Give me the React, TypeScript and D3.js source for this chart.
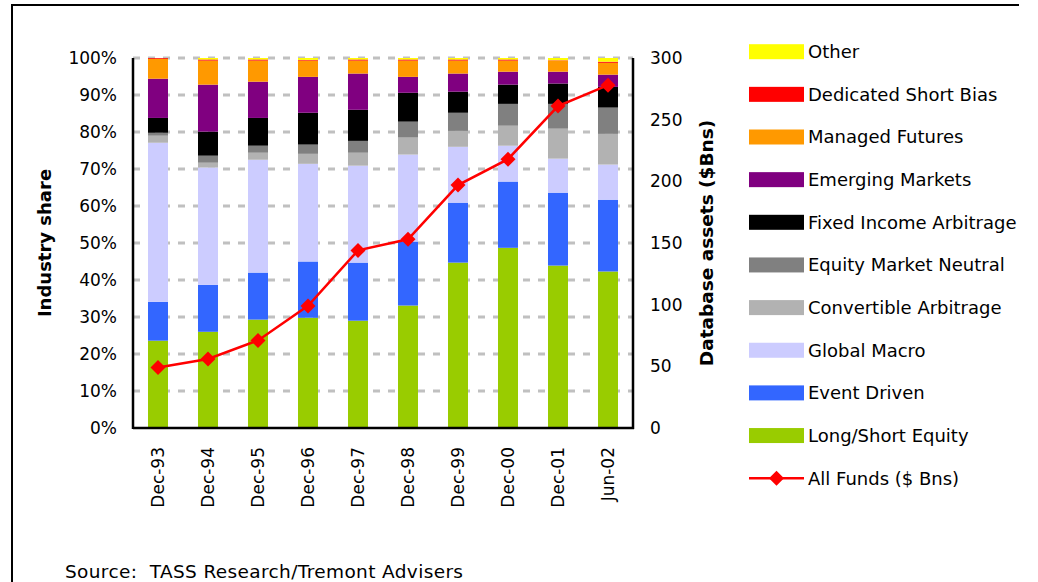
import React from "react";
import * as d3 from "d3";

const periods = ["Dec-93", "Dec-94", "Dec-95", "Dec-96", "Dec-97", "Dec-98", "Dec-99", "Dec-00", "Dec-01", "Jun-02"];

// Industry share by strategy (%), stacked bottom to top
const longShortEquity = [23.6, 26.0, 29.3, 29.8, 29.0, 33.1, 44.7, 48.7, 43.9, 42.3];
const eventDriven = [10.5, 12.7, 12.7, 15.2, 15.7, 17.3, 16.2, 17.9, 19.7, 19.4];
const globalMacro = [43.0, 31.7, 30.5, 26.4, 26.2, 23.5, 15.1, 9.7, 9.2, 9.5];
const convertibleArbitrage = [1.9, 1.3, 1.9, 2.7, 3.5, 4.6, 4.3, 5.4, 8.1, 8.3];
const equityMarketNeutral = [0.8, 1.9, 1.9, 2.5, 3.2, 4.3, 4.9, 5.9, 6.7, 7.1];
const fixedIncomeArbitrage = [4.0, 6.5, 7.5, 8.6, 8.4, 7.8, 5.7, 5.2, 5.5, 5.6];
const emergingMarkets = [10.6, 12.7, 9.8, 9.7, 9.8, 4.3, 4.9, 3.5, 3.2, 3.3];
const managedFutures = [5.4, 6.5, 5.7, 4.4, 3.5, 4.4, 3.5, 3.0, 3.0, 3.2];
const dedicatedShortBias = [0.2, 0.3, 0.3, 0.2, 0.3, 0.3, 0.3, 0.3, 0.1, 0.3];
const other = [0.0, 0.4, 0.4, 0.5, 0.4, 0.4, 0.4, 0.4, 0.6, 1.0];

// Total database assets, $ billions
const allFunds = [49, 56, 71, 99, 144, 153, 197, 218, 261, 278];

const shareTicks = [0, 10, 20, 30, 40, 50, 60, 70, 80, 90, 100];
const assetTicks = [0, 50, 100, 150, 200, 250, 300];

const seriesDefs = [
  { key: "Long/Short Equity", values: longShortEquity, color: "#99cc00" },
  { key: "Event Driven", values: eventDriven, color: "#3366ff" },
  { key: "Global Macro", values: globalMacro, color: "#ccccff" },
  { key: "Convertible Arbitrage", values: convertibleArbitrage, color: "#b2b2b2" },
  { key: "Equity Market Neutral", values: equityMarketNeutral, color: "#808080" },
  { key: "Fixed Income Arbitrage", values: fixedIncomeArbitrage, color: "#000000" },
  { key: "Emerging Markets", values: emergingMarkets, color: "#800080" },
  { key: "Managed Futures", values: managedFutures, color: "#ff9900" },
  { key: "Dedicated Short Bias", values: dedicatedShortBias, color: "#ff0000" },
  { key: "Other", values: other, color: "#ffff00" },
];

const FONT = "'DejaVu Sans', Verdana, sans-serif";

export default function App() {
  const W = 1038;
  const H = 582;
  const left = 133;
  const right = 633;
  const top = 58;
  const bottom = 428;

  const x = d3.scaleBand<string>().domain(periods).range([left, right]).paddingInner(0.6).paddingOuter(0.3);
  const yShare = d3.scaleLinear().domain([0, 100]).range([bottom, top]);
  const yAssets = d3.scaleLinear().domain([0, 300]).range([bottom, top]);

  const rows = periods.map((p, i) => {
    const r: Record<string, number | string> = { period: p };
    seriesDefs.forEach((s) => (r[s.key] = s.values[i]));
    return r;
  });
  const stacked = d3.stack<any>().keys(seriesDefs.map((s) => s.key))(rows);

  const cx = (p: string) => (x(p) ?? 0) + x.bandwidth() / 2;
  const linePath = d3
    .line<number>()
    .x((_, i) => cx(periods[i]))
    .y((v) => yAssets(v))(allFunds);

  const diamond = (px: number, py: number, r: number) =>
    `M${px},${py - r}L${px + r},${py}L${px},${py + r}L${px - r},${py}Z`;

  const legendItems = [...seriesDefs].reverse();
  const legendTop = 51.7;
  const legendStep = 42.65;
  const swX = 749;
  const swW = 55;

  return (
    <svg width={W} height={H} style={{ position: "absolute", left: 0, top: 0, background: "#fff" }} fontFamily={FONT}>
      <rect x={0} y={0} width={W} height={H} fill="#fff" />
      {/* frame */}
      <path d={`M12,${H}V5H1019`} fill="none" stroke="#000" strokeWidth={2} />

      {/* gridlines */}
      {shareTicks.filter((t) => t > 0).map((t) => (
        <line key={t} x1={left} x2={right} y1={yShare(t)} y2={yShare(t)} stroke="#c0c0c0" strokeWidth={3} strokeDasharray="7,8" />
      ))}

      {/* stacked bars */}
      {stacked.map((layer, li) => (
        <g key={layer.key} fill={seriesDefs[li].color}>
          {layer.map((d, i) => (
            <rect
              key={periods[i]}
              x={x(periods[i])}
              width={x.bandwidth()}
              y={yShare(d[1])}
              height={Math.max(0, yShare(d[0]) - yShare(d[1]))}
            />
          ))}
        </g>
      ))}

      {/* axes */}
      <line x1={left} x2={left} y1={top} y2={bottom + 1} stroke="#000" strokeWidth={2.5} />
      <line x1={right} x2={right} y1={top} y2={bottom + 1} stroke="#000" strokeWidth={2.5} />
      <line x1={left} x2={right + 1} y1={bottom} y2={bottom} stroke="#000" strokeWidth={2.5} />

      {/* all funds line */}
      <path d={linePath ?? ""} fill="none" stroke="#ff0000" strokeWidth={2.5} />
      {allFunds.map((v, i) => (
        <path key={i} d={diamond(cx(periods[i]), yAssets(v), 7.5)} fill="#ff0000" />
      ))}

      {/* left ticks */}
      {shareTicks.map((t) => (
        <text key={t} x={117} y={yShare(t)} dy="0.36em" textAnchor="end" fontSize={17} fill="#000">
          {t}%
        </text>
      ))}
      {/* right ticks */}
      {assetTicks.map((t) => (
        <text key={t} x={650} y={yAssets(t)} dy="0.36em" textAnchor="start" fontSize={17} fill="#000">
          {t}
        </text>
      ))}
      {/* category labels */}
      {periods.map((p) => (
        <text
          key={p}
          transform={`translate(${cx(p)},447) rotate(-90)`}
          dy="0.36em"
          textAnchor="end"
          fontSize={17}
          fill="#000"
        >
          {p}
        </text>
      ))}

      {/* axis titles */}
      <text transform="translate(45,243) rotate(-90)" dy="0.36em" textAnchor="middle" fontSize={18} fontWeight="bold">
        Industry share
      </text>
      <text transform="translate(706,243) rotate(-90)" dy="0.36em" textAnchor="middle" fontSize={18.5} fontWeight="bold">
        Database assets ($Bns)
      </text>

      {/* legend */}
      {legendItems.map((s, i) => {
        const cy = legendTop + i * legendStep;
        return (
          <g key={s.key}>
            <rect x={swX} y={cy - 7.5} width={swW} height={15} fill={s.color} />
            <text x={808} y={cy} dy="0.36em" fontSize={18} fill="#000">
              {s.key}
            </text>
          </g>
        );
      })}
      {(() => {
        const cy = legendTop + legendItems.length * legendStep;
        return (
          <g>
            <line x1={swX} x2={swX + swW} y1={cy} y2={cy} stroke="#ff0000" strokeWidth={2.5} />
            <path d={diamond(swX + swW / 2, cy, 7.5)} fill="#ff0000" />
            <text x={808} y={cy} dy="0.36em" fontSize={18} fill="#000">
              All Funds ($ Bns)
            </text>
          </g>
        );
      })()}

      {/* source note */}
      <text
        x={65}
        y={578}
        fontSize={18.5}
        fill="#000"
        style={{ whiteSpace: "pre" }}
        textLength={398}
        lengthAdjust="spacing"
      >
        {"Source:  TASS Research/Tremont Advisers"}
      </text>
    </svg>
  );
}
